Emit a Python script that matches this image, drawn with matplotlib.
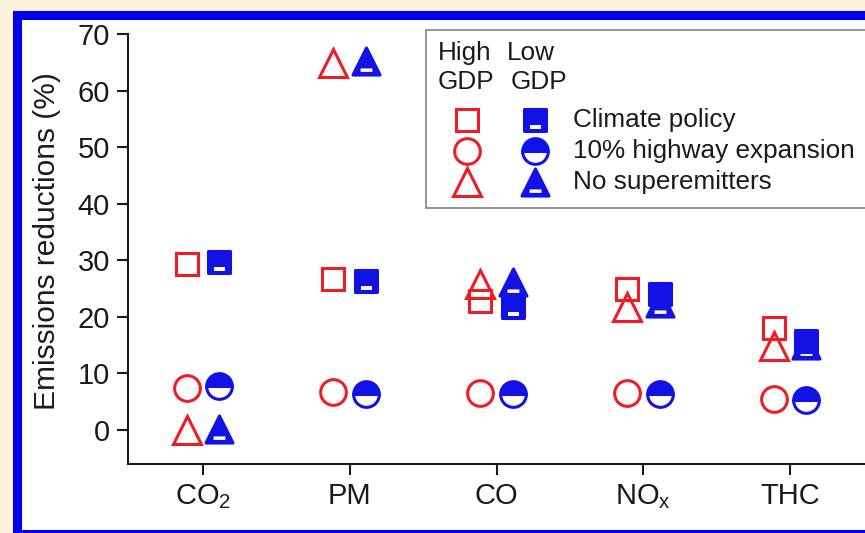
import matplotlib
matplotlib.use("Agg")
import matplotlib.pyplot as plt
from matplotlib.path import Path
from matplotlib.patches import Rectangle
from matplotlib.lines import Line2D
import numpy as np

plt.rcParams['font.family'] = ['Liberation Sans', 'DejaVu Sans']
plt.rcParams['mathtext.fontset'] = 'custom'
plt.rcParams['mathtext.rm'] = 'Liberation Sans'

# ---------------- data ----------------
categories = ['CO$_\\mathregular{2}$', 'PM', 'CO', 'NO$_\\mathregular{x}$', 'THC']
high_climate = [29.3, 26.7, 22.8, 24.9, 18.0]
low_climate = [29.7, 26.3, 21.8, 24.0, 15.8]
high_highway = [7.4, 6.7, 6.5, 6.5, 5.5]
low_highway = [7.7, 6.4, 6.4, 6.4, 5.3]
high_nosuper = [0.0, 64.9, 25.8, 21.7, 14.8]
low_nosuper = [0.2, 65.2, 26.2, 22.4, 15.1]
legend_labels = ['Climate policy', '10% highway expansion', 'No superemitters']
yticks = [0, 10, 20, 30, 40, 50, 60, 70]

RED = '#EE1D25'
BLUE = '#1212E4'
W, H = 865, 533


def holed(outer, hole):
    verts = list(outer) + [outer[0]] + list(hole[::-1]) + [hole[-1]]
    codes = ([Path.MOVETO] + [Path.LINETO] * (len(outer) - 1) + [Path.CLOSEPOLY]
             + [Path.MOVETO] + [Path.LINETO] * (len(hole) - 1) + [Path.CLOSEPOLY])
    return Path(verts, codes)


sq_hole = holed([(-1, -1), (1, -1), (1, 1), (-1, 1)],
                [(-0.62, -0.84), (0.62, -0.84), (0.62, -0.22), (-0.62, -0.22)])
tri_hole = holed([(-1, -1), (1, -1), (0, 1)],
                 [(-0.55, -0.88), (0.55, -0.88), (0.55, -0.4), (-0.55, -0.4)])

SQ, CI, TR = 16.5, 18.5, 19.5
MEW = 2.2

fig = plt.figure(figsize=(W / 100, H / 100), dpi=100)
fig.patch.set_facecolor('#FCF2DC')

# blue frame with white inside
fig.add_artist(Rectangle((16.5 / W, 1 - 533.5 / H), 1.1, (533.5 - 14.5) / H,
                         transform=fig.transFigure, facecolor='white',
                         edgecolor='#0000EE', linewidth=6.5, zorder=0))

x0, xr = 128, 146.75
xmin, xmax = -(203 - x0) / xr, 4.6
ax = fig.add_axes([x0 / W, 1 - 464 / H, (xmax - xmin) * xr / W, (464 - 34) / H])
ax.set_facecolor('none')
ax.set_xlim(xmin, xmax)
ax.set_ylim(-6.0, 70)

x = np.arange(len(categories))
off = 0.112

ax.plot(x - off, high_climate, ls='none', marker='s', ms=SQ, mfc='none', mec=RED, mew=MEW, clip_on=False)
ax.plot(x - off, high_highway, ls='none', marker='o', ms=CI, mfc='none', mec=RED, mew=MEW, clip_on=False)
ax.plot(x - off, high_nosuper, ls='none', marker='^', ms=TR, mfc='none', mec=RED, mew=MEW, clip_on=False)
ax.plot(x + off, low_climate, ls='none', marker=sq_hole, ms=SQ, mfc=BLUE, mec=BLUE, mew=MEW, clip_on=False)
ax.plot(x + off, low_highway, ls='none', marker='o', ms=CI, fillstyle='top', mfc=BLUE,
        mfcalt='white', mec=BLUE, mew=MEW, clip_on=False)
ax.plot(x + off, low_nosuper, ls='none', marker=tri_hole, ms=TR, mfc=BLUE, mec=BLUE, mew=MEW, clip_on=False)

for s in ['top', 'right']:
    ax.spines[s].set_visible(False)
for s in ['left', 'bottom']:
    ax.spines[s].set_linewidth(1.5)
    ax.spines[s].set_color('#1a1a1a')
ax.spines['left'].set_bounds(-6.0, 70)

ax.set_yticks(yticks)
ax.set_xticks(x)
ax.set_xticklabels(categories)
ax.tick_params(axis='both', direction='out', length=8, width=1.5, color='#1a1a1a',
               labelsize=21, labelcolor='#1a1a1a', pad=5)

fig.text(47 / W, 1 - 241 / H, 'Emissions reductions (%)', rotation=90, ha='center',
         va='center', fontsize=21.5, color='#1a1a1a')

# legend box
fig.add_artist(Rectangle((426 / W, 1 - 208 / H), 0.6, (208 - 30) / H, transform=fig.transFigure,
                         facecolor='white', edgecolor='#8C8C8C', linewidth=1.3, zorder=2))
fs = 18.8
fig.text(438 / W, 1 - 53 / H, 'High', fontsize=fs, va='center', ha='left', color='#1a1a1a', zorder=3)
fig.text(507 / W, 1 - 53 / H, 'Low', fontsize=fs, va='center', ha='left', color='#1a1a1a', zorder=3)
fig.text(438 / W, 1 - 82 / H, 'GDP', fontsize=fs, va='center', ha='left', color='#1a1a1a', zorder=3)
fig.text(511 / W, 1 - 82 / H, 'GDP', fontsize=fs, va='center', ha='left', color='#1a1a1a', zorder=3)
rows = [120, 151, 182]
red_styles = [dict(marker='s', ms=SQ, mfc='none'),
              dict(marker='o', ms=CI, mfc='none'),
              dict(marker='^', ms=TR, mfc='none')]
blue_styles = [dict(marker=sq_hole, ms=SQ, mfc=BLUE),
               dict(marker='o', ms=CI, fillstyle='top', mfc=BLUE, mfcalt='white'),
               dict(marker=tri_hole, ms=TR, mfc=BLUE)]
for yy, lab, rs, bs in zip(rows, legend_labels, red_styles, blue_styles):
    fig.add_artist(Line2D([467 / W], [1 - yy / H], ls='none', mec=RED, mew=MEW,
                          transform=fig.transFigure, zorder=3, **rs))
    fig.add_artist(Line2D([535 / W], [1 - yy / H], ls='none', mec=BLUE, mew=MEW,
                          transform=fig.transFigure, zorder=3, **bs))
    fig.text(573 / W, 1 - yy / H, lab, fontsize=fs, va='center', ha='left', color='#1a1a1a', zorder=3)

fig.savefig('out.png', dpi=100, facecolor=fig.get_facecolor())
